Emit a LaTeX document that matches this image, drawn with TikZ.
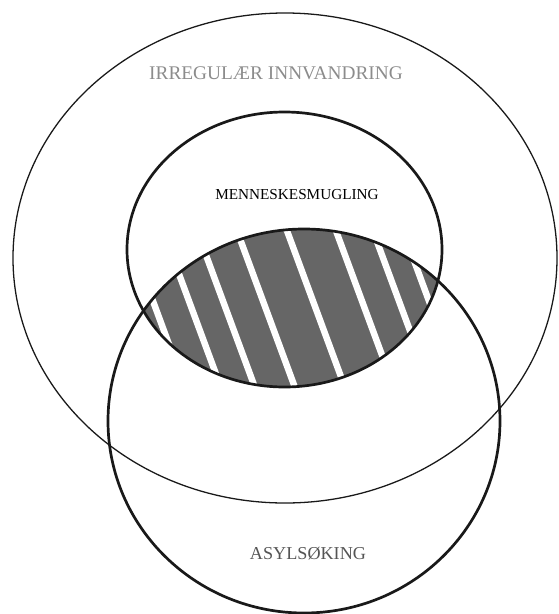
\documentclass[tikz,border=0pt]{standalone}
\usepackage{fontspec}
\setmainfont{Liberation Serif}
\definecolor{lensgray}{RGB}{102,102,102}
\definecolor{irrtext}{RGB}{140,140,140}
\definecolor{asyltext}{RGB}{85,85,85}

\begin{document}
\begin{tikzpicture}[x=0.03cm, y=-0.03cm,
  thinring/.style={draw=black!90, line width=1.1pt},
  thickring/.style={draw=black!90, line width=2.3pt},
  setlabel/.style={inner sep=0pt, font=\fontsize{#1}{#1}\selectfont},
  stripe/.style={white, line width=5.5pt},
]
\useasboundingbox (0,0) rectangle (558,614);
% Centres of the three sets
\coordinate (irr) at (285,258);
\coordinate (smug) at (284.5,249.5);
\coordinate (asyl) at (304,421);

% Hatched overlap of smuggling and asylum
\begin{scope}
  \clip (smug) ellipse [x radius=157.5, y radius=137.5];
  \clip (asyl) ellipse [x radius=196, y radius=192];
  \fill[lensgray] (0,0) rectangle (558,614);
  \foreach \sx in {160,196,230,270,320,369,406,436}
    \draw[stripe] (\sx-0.37*140,180) -- (\sx+0.37*100,420);
\end{scope}

% Rings
\draw[thinring] (irr) ellipse [x radius=272, y radius=245];
\draw[thickring] (smug) ellipse [x radius=157.5, y radius=137.5];
\draw[thickring] (asyl) ellipse [x radius=196, y radius=192];

% Labels
\node[setlabel=16.5, text=irrtext] (irrlabel) at (276,73) {IRREGULÆR INNVANDRING};
\node[setlabel=13, text=black] (smuglabel) at (297,195) {MENNESKESMUGLING};
\node[setlabel=15.5, text=asyltext] (asyllabel) at (308,554) {ASYLSØKING};
\end{tikzpicture}
\end{document}
